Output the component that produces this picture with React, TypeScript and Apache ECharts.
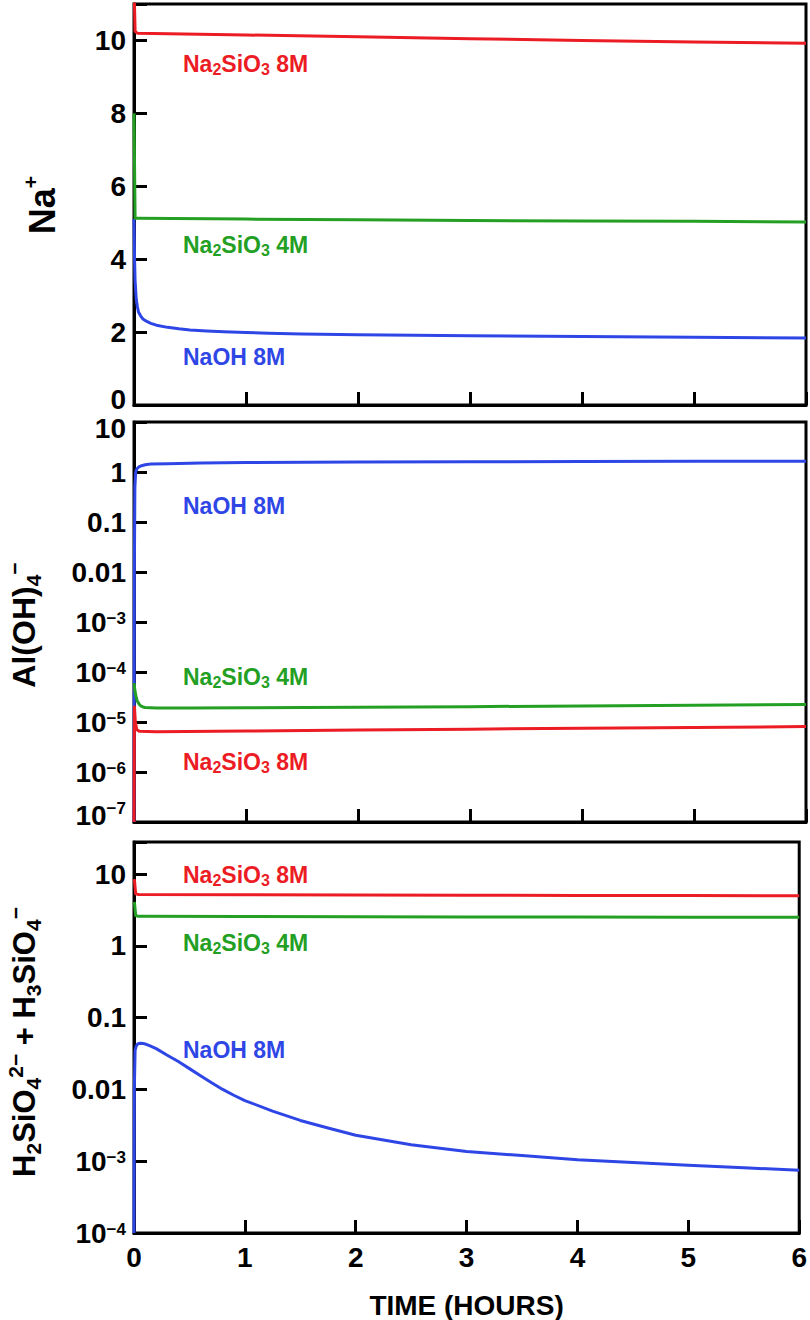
import React, { useEffect, useRef } from "react";
import * as echarts from "echarts";

// ---------- data (time in hours) ----------
const xTicks = [0, 1, 2, 3, 4, 5, 6];

// Panel 1: Na+
const naRedT = [0, 0.01, 0.03, 1, 2, 3, 4, 5, 6];
const naRed = [11.5, 10.25, 10.2, 10.15, 10.1, 10.05, 10.0, 9.96, 9.92];
const naGreenT = [0, 0.01, 0.03, 1, 2, 3, 4, 5, 6];
const naGreen = [8, 5.12, 5.12, 5.1, 5.08, 5.06, 5.05, 5.04, 5.02];
const naBlueT = [0, 0.005, 0.01, 0.02, 0.03, 0.04, 0.06, 0.08, 0.11, 0.15, 0.2, 0.3, 0.4, 0.5, 0.65, 0.8, 1.0, 1.2, 1.5, 2, 2.5, 3, 4, 5, 6];
const naBlue = [5.1, 4.0, 3.4, 2.9, 2.7, 2.55, 2.44, 2.36, 2.3, 2.24, 2.19, 2.13, 2.09, 2.06, 2.03, 2.01, 1.99, 1.97, 1.95, 1.93, 1.915, 1.9, 1.88, 1.86, 1.84];

// Panel 2: Al(OH)4-
const alBlueT = [0, 0.003, 0.008, 0.015, 0.025, 0.04, 0.06, 0.1, 0.15, 0.3, 0.6, 1, 2, 3, 4, 5, 6];
const alBlue = [1e-7, 0.01, 0.5, 1.0, 1.15, 1.25, 1.32, 1.4, 1.44, 1.47, 1.52, 1.55, 1.58, 1.6, 1.62, 1.64, 1.65];
const alGreenT = [0, 0.01, 0.02, 0.03, 0.045, 0.06, 0.08, 0.1, 0.2, 0.5, 1, 2, 3, 4, 5, 6];
const alGreen = [6e-5, 4e-5, 3.1e-5, 2.6e-5, 2.3e-5, 2.1e-5, 2.0e-5, 1.95e-5, 1.9e-5, 1.9e-5, 1.92e-5, 1.97e-5, 2.03e-5, 2.1e-5, 2.17e-5, 2.25e-5];
const alRedT = [0, 0.004, 0.012, 0.025, 0.05, 0.2, 1, 2, 3, 4, 5, 6];
const alRed = [1e-7, 2e-5, 1e-5, 7e-6, 6.5e-6, 6.4e-6, 6.6e-6, 6.9e-6, 7.2e-6, 7.5e-6, 7.8e-6, 8.1e-6];

// Panel 3: H2SiO4 2- + H3SiO4 -
const siRedT = [0, 0.005, 0.015, 0.04, 1, 2, 3, 4, 5, 6];
const siRed = [8.5, 8, 5.3, 5.2, 5.15, 5.1, 5.08, 5.05, 5.02, 5.0];
const siGreenT = [0, 0.005, 0.015, 0.04, 1, 2, 3, 4, 5, 6];
const siGreen = [4.1, 3.9, 2.65, 2.58, 2.56, 2.54, 2.53, 2.52, 2.51, 2.5];
const siBlueT = [0, 0.003, 0.01, 0.02, 0.03, 0.045, 0.06, 0.08, 0.1, 0.15, 0.2, 0.3, 0.4, 0.5, 0.6, 0.7, 0.8, 0.9, 1, 1.25, 1.5, 1.75, 2, 2.5, 3, 3.5, 4, 4.5, 5, 5.5, 6];
const siBlue = [1e-4, 0.01, 0.035, 0.04, 0.0425, 0.0438, 0.0441, 0.0438, 0.043, 0.04, 0.037, 0.03, 0.0245, 0.0195, 0.0155, 0.0124, 0.01, 0.0083, 0.007, 0.005, 0.0037, 0.0029, 0.0023, 0.0017, 0.00137, 0.0012, 0.00105, 0.00096, 0.00088, 0.00081, 0.00075];

const RED = "#ec1c24";
const GREEN = "#23a023";
const BLUE = "#2f46e6";
const FONT = "'Liberation Sans', Arial, sans-serif";

const pairs = (t: number[], v: number[]) => t.map((x, i) => [x, v[i]]);

// labels at the edge of a panel are nudged inward (as in the original figure)
const logFmt = (minExp: number, maxExp: number) => (v: number) => {
  const l = Math.log10(v);
  const e = Math.round(l);
  if (Math.abs(l - e) > 0.02) return "";
  let body: string;
  if (e >= 1) body = "10";
  else if (e === 0) body = "1";
  else if (e === -1) body = "0.1";
  else if (e === -2) body = "0.01";
  else body = "10{s|\u2212" + Math.abs(e) + "}";
  if (e === maxExp) return "{dn|" + body + "}";
  if (e === minExp && e < -2) return "{up|10}{us|\u2212" + Math.abs(e) + "}";
  return body;
};

const LBL = 28;
const labelRich = {
  s: { fontSize: 17, fontWeight: "bold", fontFamily: FONT, color: "#000", verticalAlign: "top", lineHeight: 14 },
  up: { fontSize: LBL, fontWeight: "bold", fontFamily: FONT, color: "#000", padding: [0, 0, 14, 0] },
  us: { fontSize: 17, fontWeight: "bold", fontFamily: FONT, color: "#000", padding: [0, 0, 28, 0] },
  dn: { fontSize: LBL, fontWeight: "bold", fontFamily: FONT, color: "#000", padding: [12, 0, 0, 0] },
  bt: { fontSize: LBL, fontWeight: "bold", fontFamily: FONT, color: "#000", padding: [0, 0, 12, 0] },
};

export default function App() {
  const ref = useRef<HTMLDivElement>(null);
  useEffect(() => {
    const chart = echarts.init(ref.current!, null, { renderer: "svg" });
    const grids = [
      { left: 134, top: 4, width: 672, height: 401 },
      { left: 134, top: 422, width: 672, height: 400 },
      { left: 134, top: 842, width: 672, height: 398 },
    ].map((g) => ({ ...g, show: true, borderColor: "#000", borderWidth: 3, backgroundColor: "transparent" }));

    const axisLine = { show: true, lineStyle: { color: "#000", width: 3 } };
    const axisTick = { show: true, inside: true, length: 13, lineStyle: { color: "#000", width: 3 } };
    const lbl = { fontSize: LBL, fontWeight: "bold", fontFamily: FONT, color: "#000", lineHeight: 24 };

    const xAxes = [0, 1, 2].map((i) => ({
      type: "value",
      gridIndex: i,
      min: xTicks[0],
      max: xTicks[xTicks.length - 1],
      interval: 1,
      axisLine,
      axisTick,
      splitLine: { show: false },
      axisLabel: i === 2 ? { ...lbl, margin: 12 } : { show: false },
      name: i === 2 ? "TIME (HOURS)" : "",
      nameLocation: "middle",
      nameGap: 58,
      nameTextStyle: { fontSize: 28, fontWeight: "bold", fontFamily: FONT, color: "#000" },
    }));

    const yAxes = [
      {
        type: "value",
        gridIndex: 0,
        min: 0,
        max: 11,
        interval: 2,
        axisLine,
        axisTick,
        splitLine: { show: false },
        axisLabel: {
          ...lbl,
          margin: 8,
          rich: labelRich,
          formatter: (v: number) => (v > 10.5 ? "" : v === 0 ? "{bt|0}" : String(v)),
        },
      },
      {
        type: "log",
        logBase: 10,
        gridIndex: 1,
        min: 1e-7,
        max: 10,
        interval: 1,
        axisLine,
        axisTick,
        minorTick: { show: false },
        splitLine: { show: false },
        axisLabel: { ...lbl, margin: 8, formatter: logFmt(-7, 1), rich: labelRich, showMinLabel: true, showMaxLabel: true },
      },
      {
        type: "log",
        logBase: 10,
        gridIndex: 2,
        min: 1e-4,
        max: 28,
        interval: 1,
        axisLine,
        axisTick,
        minorTick: { show: false },
        splitLine: { show: false },
        axisLabel: { ...lbl, margin: 8, formatter: logFmt(-99, 99), rich: labelRich, showMinLabel: true, showMaxLabel: true },
      },
    ];

    const line = (idx: number, color: string, t: number[], v: number[], name: string) => ({
      type: "line",
      name,
      xAxisIndex: idx,
      yAxisIndex: idx,
      data: pairs(t, v),
      showSymbol: false,
      symbol: "none",
      clip: true,
      lineStyle: { color, width: 3, join: "round" },
      itemStyle: { color },
    });

    const series = [
      line(0, BLUE, naBlueT, naBlue, "NaOH 8M"),
      line(0, GREEN, naGreenT, naGreen, "Na2SiO3 4M"),
      line(0, RED, naRedT, naRed, "Na2SiO3 8M"),
      line(1, BLUE, alBlueT, alBlue, "NaOH 8M"),
      line(1, GREEN, alGreenT, alGreen, "Na2SiO3 4M"),
      line(1, RED, alRedT, alRed, "Na2SiO3 8M"),
      line(2, BLUE, siBlueT, siBlue, "NaOH 8M"),
      line(2, GREEN, siGreenT, siGreen, "Na2SiO3 4M"),
      line(2, RED, siRedT, siRed, "Na2SiO3 8M"),
    ];

    const annRich = (color: string) => ({
      sub: { fontSize: 16, fontWeight: "bold", fontFamily: FONT, fill: color, verticalAlign: "bottom", lineHeight: 18 },
    });
    const ann = (text: string, color: string, y: number) => ({
      type: "text",
      x: 183,
      y,
      style: {
        text,
        fill: color,
        fontSize: 23,
        fontWeight: "bold",
        fontFamily: FONT,
        align: "left",
        verticalAlign: "middle",
        lineHeight: 26,
        rich: annRich(color),
      },
    });
    const s8 = "Na{sub|2}SiO{sub|3} 8M";
    const s4 = "Na{sub|2}SiO{sub|3} 4M";

    const titleRich = {
      sup: { fontSize: 21, fontWeight: "bold", fontFamily: FONT, fill: "#000", verticalAlign: "top", lineHeight: 18 },
      sub: { fontSize: 21, fontWeight: "bold", fontFamily: FONT, fill: "#000", verticalAlign: "bottom", lineHeight: 18 },
    };
    const yTitle = (text: string, x: number, y: number, size: number) => ({
      type: "text",
      x,
      y,
      rotation: Math.PI / 2,
      style: {
        text,
        fill: "#000",
        fontSize: size,
        fontWeight: "bold",
        fontFamily: FONT,
        align: "center",
        verticalAlign: "middle",
        lineHeight: size + 8,
        rich: titleRich,
      },
    });

    const graphic = [
      ann(s8, RED, 64),
      ann(s4, GREEN, 245),
      ann("NaOH 8M", BLUE, 357),
      ann("NaOH 8M", BLUE, 506),
      ann(s4, GREEN, 677),
      ann(s8, RED, 762),
      ann(s8, RED, 875),
      ann(s4, GREEN, 943),
      ann("NaOH 8M", BLUE, 1050),
      yTitle("Na{sup|+}", 42, 205, 36),
      yTitle("Al(OH){sub|4}{sup|\u2212}", 24, 625, 32),
      yTitle("H{sub|2}SiO{sub|4}{sup|2\u2212} + H{sub|3}SiO{sub|4}{sup|\u2212}", 24, 1042, 31),
    ];

    chart.setOption({
      animation: false,
      backgroundColor: "#fff",
      grid: grids,
      xAxis: xAxes,
      yAxis: yAxes,
      series,
      graphic,
    });
    return () => chart.dispose();
  }, []);
  return (
    <div
      ref={ref}
      style={{ position: "absolute", left: 0, top: 0, width: 810, height: 1320, background: "#fff" }}
    />
  );
}
